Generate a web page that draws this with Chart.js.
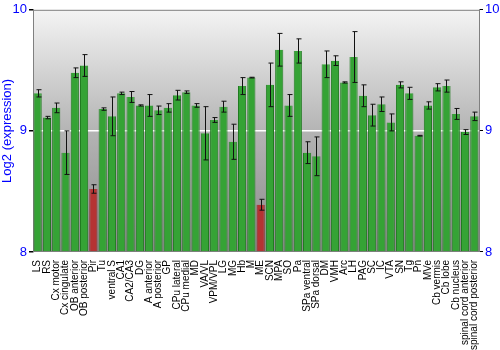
<!DOCTYPE html>
<html>
<head>
<meta charset="utf-8">
<script src="https://cdn.jsdelivr.net/npm/chart.js@4"></script>
<style>
  html, body { margin: 0; padding: 0; background: #fff; }
  #wrap { width: 500px; height: 350px; }
</style>
</head>
<body>
<div id="wrap"><canvas id="grafico" width="500" height="350"></canvas></div>
<script>
const regiones = ["LS", "RS", "Cx motor", "Cx cingulate", "OB anterior", "OB posterior", "Pir", "Tu",
  "ventral S", "CA1", "CA2/CA3", "DG", "A anterior", "A posterior", "GP", "CPu lateral", "CPu medial",
  "MD", "VA/VL", "VPM/VPL", "LG", "MG", "Hb", "M", "ME", "SCN", "MPA", "SO", "Pa", "SPa ventral",
  "SPa dorsal", "DM", "VMH", "Arc", "LH", "PAG", "SC", "IC", "VTA", "SN", "Tg", "Pn", "MVe",
  "Cb vermis", "Cb lobe", "Cb nucleus", "spinal cord anterior", "spinal cord posterior"];

const expresion = [9.31, 9.11, 9.19, 8.82, 9.48, 9.54, 8.52, 9.18,
  9.12, 9.31, 9.28, 9.21, 9.21, 9.17, 9.19, 9.295, 9.32,
  9.21, 8.98, 9.09, 9.20, 8.91, 9.37, 9.44, 8.39, 9.38, 9.67, 9.21, 9.66, 8.82,
  8.79, 9.55, 9.58, 9.40, 9.61, 9.29, 9.13, 9.22, 9.07, 9.38, 9.31, 8.96, 9.21,
  9.36, 9.37, 9.14, 8.99, 9.12];

const errores = [0.03, 0.01, 0.04, 0.18, 0.04, 0.09, 0.035, 0.01,
  0.16, 0.01, 0.045, 0.005, 0.09, 0.035, 0.035, 0.04, 0.01,
  0.015, 0.22, 0.02, 0.045, 0.145, 0.07, 0.003, 0.045, 0.18, 0.135, 0.09, 0.1, 0.09,
  0.16, 0.11, 0.04, 0.005, 0.21, 0.09, 0.09, 0.06, 0.07, 0.025, 0.05, 0.003, 0.03,
  0.03, 0.05, 0.045, 0.02, 0.035];

// regiones marcadas en rojo
const destacadas = ["Pir", "ME"];

const ticksY = [8, 9, 10];

const fondo = {
  id: "fondo",
  beforeDraw(chart) {
    const {ctx, chartArea: a} = chart;
    const g = ctx.createLinearGradient(0, a.top, 0, a.bottom);
    g.addColorStop(0, "#f4f4f4");
    g.addColorStop(0.5, "#b4b4b4");
    g.addColorStop(1, "#8a8a8a");
    ctx.save();
    ctx.fillStyle = g;
    ctx.fillRect(a.left, a.top, a.right - a.left, a.bottom - a.top);
    ctx.restore();
  }
};

const barrasError = {
  id: "barrasError",
  afterDatasetsDraw(chart) {
    const {ctx} = chart;
    const meta = chart.getDatasetMeta(0);
    const y = chart.scales.y;
    ctx.save();
    ctx.strokeStyle = "#111";
    ctx.lineWidth = 1;
    meta.data.forEach((bar, i) => {
      const v = expresion[i], e = errores[i];
      const x = Math.round(bar.x) + 0.5;
      const y1 = y.getPixelForValue(v + e), y2 = y.getPixelForValue(v - e);
      ctx.beginPath();
      ctx.moveTo(x, y1); ctx.lineTo(x, y2);
      ctx.moveTo(x - 2, y1); ctx.lineTo(x + 3, y1);
      ctx.moveTo(x - 2, y2); ctx.lineTo(x + 3, y2);
      ctx.stroke();
    });
    ctx.restore();
  }
};

const colores = regiones.map(r => destacadas.includes(r) ? "#b53333" : "#35a335");
const bordes = regiones.map(r => destacadas.includes(r) ? "#8a1f1f" : "#1f7a1f");

const ctx = document.getElementById("grafico").getContext("2d");
new Chart(ctx, {
  type: "bar",
  data: {
    labels: regiones,
    datasets: [{
      data: expresion,
      backgroundColor: colores,
      borderColor: bordes,
      borderWidth: {left: 1, right: 1, top: 0, bottom: 0},
      barPercentage: 0.88,
      categoryPercentage: 1,
      base: 8
    }]
  },
  options: {
    responsive: false,
    animation: false,
    layout: { padding: { top: 9, left: 0, right: 0, bottom: 0 } },
    plugins: { legend: { display: false }, tooltip: { enabled: false } },
    scales: {
      x: {
        grid: { display: false },
        border: { color: "#808080" },
        ticks: {
          color: "#000", autoSkip: false, minRotation: 90, maxRotation: 90, padding: 0,
          font: { family: "Liberation Sans", size: 10 }
        }
      },
      y: {
        min: 8, max: 10,
        afterFit(s) { s.width = 33; },
        afterBuildTicks(s) { s.ticks = ticksY.map(v => ({value: v})); },
        grid: {
          drawTicks: true, tickLength: 4, tickColor: "#000",
          color: c => c.tick && c.tick.value === 9 ? "#ffffff" : "rgba(0,0,0,0)",
          lineWidth: 1.5
        },
        border: { color: "#808080" },
        ticks: { color: "#0000ff", padding: 2, font: { family: "Liberation Sans", size: 13 } },
        title: {
          display: true, text: "Log2 (expression)", color: "#0000ff", padding: 0,
          font: { family: "Liberation Sans", size: 13 }
        }
      },
      y2: {
        position: "right", min: 8, max: 10,
        afterFit(s) { s.width = 21; },
        afterBuildTicks(s) { s.ticks = ticksY.map(v => ({value: v})); },
        grid: { drawOnChartArea: false, tickLength: 4, tickColor: "#000" },
        border: { color: "#808080" },
        ticks: { color: "#0000ff", padding: 2, font: { family: "Liberation Sans", size: 13 } }
      }
    }
  },
  plugins: [fondo, barrasError,
    {
      id: "marcoSuperior",
      afterDraw(chart) {
        const {ctx, chartArea: a} = chart;
        ctx.save();
        ctx.strokeStyle = "#808080";
        ctx.beginPath();
        ctx.moveTo(a.left, a.top + 0.5); ctx.lineTo(a.right, a.top + 0.5);
        ctx.stroke();
        ctx.restore();
      }
    }]
});
</script>
</body>
</html>
